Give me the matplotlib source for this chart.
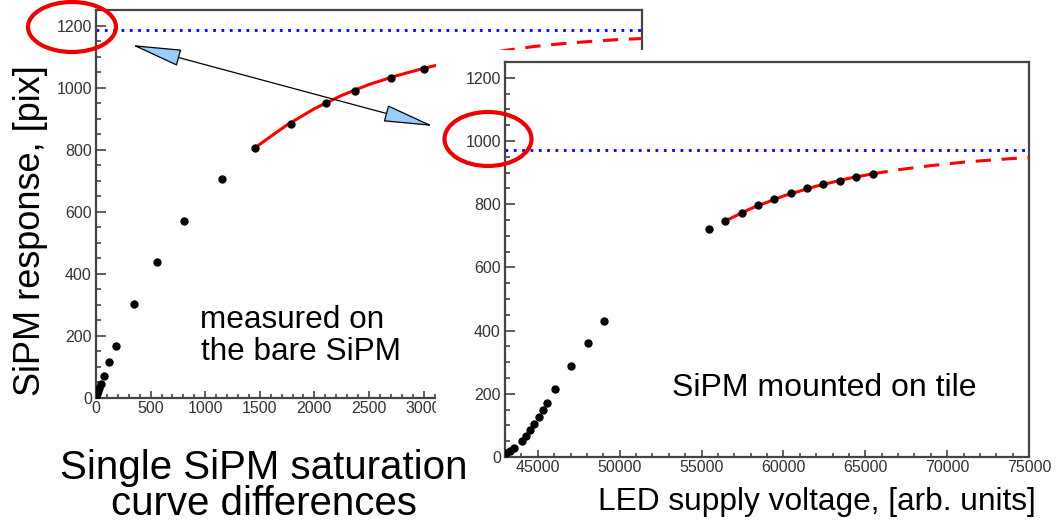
import matplotlib
matplotlib.use("Agg")
import matplotlib.pyplot as plt
import matplotlib.transforms as mtransforms
from matplotlib.patches import Ellipse, Rectangle, FancyArrowPatch
from matplotlib.ticker import MultipleLocator

# ---------------- data ----------------
# left panel: bare SiPM
left_x = [0, 9, 18, 28, 46, 74, 120, 180, 350, 560, 810, 1150, 1460, 1790, 2110, 2370, 2700, 3000]
left_y = [3, 13, 23, 32, 45, 71, 116, 168, 302, 439, 571, 706, 805, 884, 951, 990, 1031, 1061]
left_fit_solid_x = [1450, 1750, 2000, 2250, 2500, 2750, 3000]
left_fit_solid_y = [805, 880, 932, 975, 1010, 1038, 1062]
left_fit_dash_x = [3000, 3250, 3500, 3750, 4000, 4250, 4500, 4750, 5000]
left_fit_dash_y = [1062, 1083, 1103, 1120, 1132, 1141, 1148, 1154, 1158]
left_saturation = 1185

# right panel: SiPM mounted on tile
right_x = [43050, 43300, 43550, 44050, 44300, 44550, 44800, 45050, 45300, 45550, 46050,
           47050, 48050, 49050, 55450, 56450, 57450, 58450, 59450, 60450, 61450, 62450,
           63450, 64450, 65450]
right_y = [12, 20, 28, 52, 68, 86, 105, 126, 149, 172, 215, 289, 361, 430, 721, 747, 773,
           798, 816, 834, 850, 863, 875, 886, 896]
right_fit_solid_x = [56450, 58000, 60000, 62000, 64000, 65450]
right_fit_solid_y = [747, 786, 826, 857, 882, 896]
right_fit_dash_x = [65450, 67000, 69000, 71000, 73000, 75000]
right_fit_dash_y = [896, 909, 922, 933, 941, 948]
right_saturation = 970

left_xlim = (0, 5000)
right_xlim = (43000, 75000)
ylim = (0, 1250)

ylabel = "SiPM response, [pix]"
xlabel = "LED supply voltage, [arb. units]"
title_lines = ["Single SiPM saturation", "curve differences"]
left_note = ["measured on", "the bare SiPM"]
right_note = "SiPM mounted on tile"

# ---------------- figure ----------------
W, H = 1060, 525
fig = plt.figure(figsize=(W / 100, H / 100), dpi=100)
fig.patch.set_facecolor("white")
FONT = "Liberation Sans"
plt.rcParams["font.family"] = [FONT, "DejaVu Sans"]

# transform for figure pixel coordinates (origin top-left)
px = mtransforms.Affine2D().scale(1 / W, -1 / H).translate(0, 1) + fig.transFigure


def box(l, t, r, b):
    return [l / W, 1 - b / H, (r - l) / W, (b - t) / H]


SPINE = "#444444"
TICKC = "#333333"


def style_axes(ax, xmaj, xmin, ymaj, ymin):
    for s in ax.spines.values():
        s.set_color(SPINE)
        s.set_linewidth(1.6)
    ax.xaxis.set_major_locator(MultipleLocator(xmaj))
    ax.xaxis.set_minor_locator(MultipleLocator(xmin))
    ax.yaxis.set_major_locator(MultipleLocator(ymaj))
    ax.yaxis.set_minor_locator(MultipleLocator(ymin))
    ax.tick_params(which="both", direction="in", top=False, right=False,
                   color=SPINE, width=1.2, labelcolor=TICKC, labelsize=11.5)
    ax.tick_params(axis="y", which="major", length=7, pad=3)
    ax.tick_params(axis="y", which="minor", length=3.5)
    ax.tick_params(axis="x", which="major", length=5, pad=2)
    ax.tick_params(axis="x", which="minor", length=2.7)
    for lab in ax.get_xticklabels() + ax.get_yticklabels():
        lab.set_family(FONT)


# left axes
ax1 = fig.add_axes(box(96, 10, 642, 398), zorder=0)
ax1.set_xlim(*left_xlim)
ax1.set_ylim(*ylim)
ax1.axhline(left_saturation, color="#0000ff", lw=2, linestyle=(0, (1, 2)), zorder=2)
ax1.plot(left_fit_solid_x, left_fit_solid_y, color="red", lw=2.2, zorder=3)
ax1.plot(left_fit_dash_x, left_fit_dash_y, color="red", lw=2.2, linestyle=(0, (5, 3.5)), zorder=3)
ax1.plot(left_x, left_y, "o", color="black", ms=5, zorder=4)
style_axes(ax1, 500, 100, 200, 50)

# white cover from the pasted right panel
cover = Rectangle((436, 50), W - 436, H - 50, transform=px, facecolor="white",
                  edgecolor="none", zorder=1)
fig.patches.append(cover)

# right axes
ax2 = fig.add_axes(box(505, 62, 1029, 457), zorder=2)
ax2.set_xlim(*right_xlim)
ax2.set_ylim(*ylim)
ax2.axhline(right_saturation, color="#0000ff", lw=2, linestyle=(0, (1, 2)), zorder=2)
ax2.plot(right_fit_solid_x, right_fit_solid_y, color="red", lw=2.2, zorder=3)
ax2.plot(right_fit_dash_x, right_fit_dash_y, color="red", lw=2.2, linestyle=(0, (5, 3.5)), zorder=3)
ax2.plot(right_x, right_y, "o", color="black", ms=5, zorder=4)
style_axes(ax2, 5000, 1000, 200, 50)

# texts
fig.text(31, 231, ylabel, transform=px, rotation=90, ha="center", va="center",
         fontsize=26, family=FONT, color="black", zorder=5)
fig.text(200, 328, left_note[0], transform=px, ha="left", va="baseline",
         fontsize=22.7, family=FONT, zorder=5)
fig.text(201, 360, left_note[1], transform=px, ha="left", va="baseline",
         fontsize=22.7, family=FONT, zorder=5)
fig.text(264, 523, "\n".join(title_lines), transform=px, ha="center", va="bottom",
         multialignment="center", linespacing=0.92,
         fontsize=29, family=FONT, zorder=5)
fig.text(672, 396, right_note, transform=px, ha="left", va="baseline",
         fontsize=23, family=FONT, zorder=5)
fig.text(598, 510, xlabel, transform=px, ha="left", va="baseline",
         fontsize=22.8, family=FONT, zorder=5)

# red ellipses
for (cx, cy, w, h) in [(72, 27, 88, 50), (488, 139, 87, 54)]:
    e = Ellipse((cx, cy), w, h, transform=px, fill=False, edgecolor="#ee0000",
                lw=3, zorder=6)
    fig.patches.append(e)

# double arrow
arr = FancyArrowPatch((132, 45), (433, 126), transform=px,
                      arrowstyle="<|-|>,head_length=32,head_width=5.5",
                      mutation_scale=1, shrinkA=0, shrinkB=0,
                      facecolor="#99ccff", edgecolor="black", lw=0.9, zorder=7)
fig.patches.append(arr)

fig.savefig("out.png", dpi=100, facecolor="white")
